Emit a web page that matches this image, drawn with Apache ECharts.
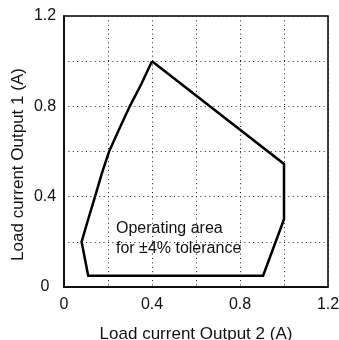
<!DOCTYPE html>
<html>
<head>
<meta charset="utf-8">
<script src="https://cdn.jsdelivr.net/npm/echarts@6/dist/echarts.min.js"></script>
<style>
  html, body { margin: 0; padding: 0; background: #fff; }
  #chart { width: 339px; height: 340px; }
</style>
</head>
<body>
<div id="chart"></div>
<script>
// Boundary of the operating area, traced clockwise from the peak.
const outputTwoCurrent = [0.40, 1.00, 1.00, 0.905, 0.11, 0.08, 0.11, 0.141, 0.171, 0.205, 0.251, 0.299, 0.352, 0.40];
const outputOneCurrent = [1.00, 0.545, 0.30, 0.05, 0.05, 0.20, 0.30, 0.40, 0.50, 0.60, 0.70, 0.80, 0.90, 1.00];

// Labelled ticks on both axes (grid lines every 0.2).
const tickLabels = [0, 0.4, 0.8, 1.2];
const axisMin = 0, axisMax = 1.2, gridStep = 0.2;

const xName = 'Load current Output 2 (A)';
const yName = 'Load current Output 1 (A)';
const areaNote = 'Operating area\nfor \u00b14% tolerance';

const font = '"Liberation Sans", Arial, Helvetica, sans-serif';

function tickFormatter(v) {
  const hit = tickLabels.find(t => Math.abs(t - v) < 1e-6);
  return hit === undefined ? '' : String(hit);
}

const dotted = { show: true, lineStyle: { color: '#222', width: 1, type: [1, 3.4] } };

function makeAxis(name, gap, namePadding, extra) {
  return Object.assign({
    type: 'value',
    min: axisMin,
    max: axisMax,
    interval: gridStep,
    name: name,
    nameLocation: 'middle',
    nameGap: gap,
    nameMoveOverlap: false,
    nameTextStyle: { fontFamily: font, fontSize: 17, color: '#111', padding: namePadding },
    axisLine: { show: true, onZero: false, lineStyle: { color: '#000', width: 1.5 } },
    axisTick: { show: false },
    splitLine: dotted
  }, extra);
}

const chart = echarts.init(document.getElementById('chart'), null, { renderer: 'canvas' });
chart.setOption({
  animation: false,
  backgroundColor: '#fff',
  grid: {
    left: 64, right: 11, top: 16, bottom: 53,
    containLabel: false,
    outerBoundsMode: 'none',
    show: true, borderColor: '#000', borderWidth: 1.5, backgroundColor: 'transparent'
  },
  xAxis: makeAxis(xName, 39, 0, {
    axisLabel: { formatter: tickFormatter, margin: 10, fontFamily: font, fontSize: 16, color: '#111', showMinLabel: true, showMaxLabel: true }
  }),
  yAxis: makeAxis(yName, 37, [0, 26, 0, 0], {
    axisLabel: { formatter: tickFormatter, margin: 19, align: 'center', fontFamily: font, fontSize: 16, color: '#111', showMinLabel: true, showMaxLabel: true }
  }),
  series: [{
    type: 'line',
    data: outputTwoCurrent.map((x, i) => [x, outputOneCurrent[i]]),
    showSymbol: false,
    symbol: 'none',
    smooth: false,
    lineStyle: { color: '#000', width: 2.5, join: 'miter' },
    z: 5
  }],
  graphic: [{
    type: 'text',
    left: 116,
    top: 219,
    style: {
      text: areaNote,
      fontFamily: font,
      fontSize: 16,
      lineHeight: 20,
      fill: '#111'
    },
    z: 10
  }]
});
</script>
</body>
</html>
